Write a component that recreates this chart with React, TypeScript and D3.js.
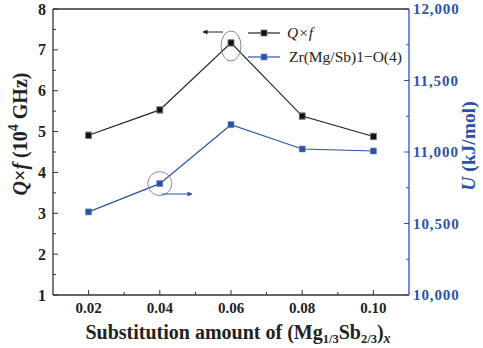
import React from "react";
import * as d3 from "d3";

const xValues = [0.02, 0.04, 0.06, 0.08, 0.1];
const qfValues = [4.91, 5.53, 7.17, 5.38, 4.88];
const uValues = [10581, 10779, 11191, 11021, 11007];
const xTicks = [0.02, 0.04, 0.06, 0.08, 0.1];
const xMinor = [0.03, 0.05, 0.07, 0.09];
const leftTicks = [1, 2, 3, 4, 5, 6, 7, 8];
const leftMinor = [1.5, 2.5, 3.5, 4.5, 5.5, 6.5, 7.5];
const rightTicks = [10000, 10500, 11000, 11500, 12000];
const rightMinor = [10250, 10750, 11250, 11750];

const W = 483, H = 348;
const M = { left: 53, right: 409, top: 9, bottom: 295 };
const BLUE = "#2c52a8";
const FONT = "Liberation Serif, Times New Roman, Times, DejaVu Serif, serif";

export default function App() {
  const x = d3.scaleLinear().domain([0.01, 0.11]).range([M.left, M.right]);
  const yL = d3.scaleLinear().domain([1, 8]).range([M.bottom, M.top]);
  const yR = d3.scaleLinear().domain([10000, 12000]).range([M.bottom, M.top]);
  const lineQ = d3.line<number>().x((_, i) => x(xValues[i])).y((d) => yL(d));
  const lineU = d3.line<number>().x((_, i) => x(xValues[i])).y((d) => yR(d));
  const fmt = d3.format(",");
  const ms = 6;
  const ts = { fontFamily: FONT };

  return (
    <svg width={W} height={H} style={{ position: "absolute", left: 0, top: 0, fontFamily: FONT }}>
      <defs>
        <marker id="ah" viewBox="0 0 10 10" refX="9" refY="5" markerWidth="7" markerHeight="5" orient="auto-start-reverse">
          <path d="M0,0 L10,5 L0,10 z" fill="#222" />
        </marker>
        <marker id="ahb" viewBox="0 0 10 10" refX="9" refY="5" markerWidth="7" markerHeight="5" orient="auto">
          <path d="M0,0 L10,5 L0,10 z" fill={BLUE} />
        </marker>
      </defs>
      {/* frame */}
      <line x1={M.left} x2={M.right} y1={M.top} y2={M.top} stroke="#333" strokeWidth={1.3} />
      <line x1={M.left} x2={M.right} y1={M.bottom} y2={M.bottom} stroke="#333" strokeWidth={1.3} />
      <line x1={M.left} x2={M.left} y1={M.top} y2={M.bottom} stroke="#333" strokeWidth={1.3} />
      <line x1={M.right} x2={M.right} y1={M.top} y2={M.bottom} stroke={BLUE} strokeWidth={1.3} />

      {/* x ticks */}
      {xTicks.map((t) => (
        <g key={"xt" + t}>
          <line x1={x(t)} x2={x(t)} y1={M.bottom} y2={M.bottom - 5} stroke="#333" />
          <text style={ts} x={x(t)} y={313} textAnchor="middle" fontSize={15} fontWeight="bold" fill="#222">
            {t.toFixed(2)}
          </text>
        </g>
      ))}
      {xMinor.map((t) => (
        <line key={"xm" + t} x1={x(t)} x2={x(t)} y1={M.bottom} y2={M.bottom - 3} stroke="#333" />
      ))}

      {/* left ticks */}
      {leftTicks.map((t) => (
        <g key={"lt" + t}>
          <line x1={M.left} x2={M.left + 5} y1={yL(t)} y2={yL(t)} stroke="#333" />
          <text style={ts} x={46} y={yL(t) + 5.5} textAnchor="end" fontSize={16} fontWeight="bold" fill="#222">
            {t}
          </text>
        </g>
      ))}
      {leftMinor.map((t) => (
        <line key={"lm" + t} x1={M.left} x2={M.left + 3} y1={yL(t)} y2={yL(t)} stroke="#333" />
      ))}

      {/* right ticks */}
      {rightTicks.map((t) => (
        <g key={"rt" + t}>
          <line x1={M.right} x2={M.right - 5} y1={yR(t)} y2={yR(t)} stroke={BLUE} />
          <text style={ts} x={413} y={yR(t) + 5} textAnchor="start" fontSize={15} fontWeight="bold" fill={BLUE} letterSpacing={0.9}>
            {fmt(t)}
          </text>
        </g>
      ))}
      {rightMinor.map((t) => (
        <line key={"rm" + t} x1={M.right} x2={M.right - 3} y1={yR(t)} y2={yR(t)} stroke={BLUE} />
      ))}

      {/* series */}
      <path d={lineQ(qfValues) || ""} fill="none" stroke="#222" strokeWidth={1.2} />
      <path d={lineU(uValues) || ""} fill="none" stroke={BLUE} strokeWidth={1.2} />
      {qfValues.map((v, i) => (
        <g key={"q" + i}>
          <line x1={x(xValues[i])} x2={x(xValues[i])} y1={yL(v + 0.08)} y2={yL(v - 0.08)} stroke="#888" />
          <line x1={x(xValues[i]) - 3} x2={x(xValues[i]) + 3} y1={yL(v + 0.08)} y2={yL(v + 0.08)} stroke="#999" />
          <line x1={x(xValues[i]) - 3} x2={x(xValues[i]) + 3} y1={yL(v - 0.08)} y2={yL(v - 0.08)} stroke="#999" />
          <rect x={x(xValues[i]) - ms / 2} y={yL(v) - ms / 2} width={ms} height={ms} fill="#111" stroke="#777" strokeWidth={0.8} />
        </g>
      ))}
      {uValues.map((v, i) => (
        <rect key={"u" + i} x={x(xValues[i]) - ms / 2} y={yR(v) - ms / 2} width={ms} height={ms} fill={BLUE} stroke="#6b85c4" strokeWidth={0.6} />
      ))}

      {/* annotations */}
      <ellipse cx={x(0.06)} cy={46} rx={10} ry={15} fill="none" stroke="#888" strokeWidth={1} />
      <line x1={223} y1={32} x2={203} y2={32} stroke="#222" strokeWidth={1} markerEnd="url(#ah)" />
      <circle cx={x(0.04)} cy={yR(uValues[1])} r={12} fill="none" stroke="#8c86c8" strokeWidth={1} />
      <line x1={x(0.04) + 2} y1={194} x2={192} y2={194} stroke={BLUE} strokeWidth={1} markerEnd="url(#ahb)" />

      {/* legend */}
      <line x1={248} x2={280} y1={33} y2={33} stroke="#222" strokeWidth={1.2} />
      <rect x={264 - ms / 2} y={33 - ms / 2} width={ms} height={ms} fill="#111" stroke="#777" strokeWidth={0.8} />
      <text style={ts} x={287} y={38} fontSize={15.5} fontStyle="italic" fill="#222">Q×f</text>
      <line x1={248} x2={280} y1={57} y2={57} stroke={BLUE} strokeWidth={1.2} />
      <rect x={264 - ms / 2} y={57 - ms / 2} width={ms} height={ms} fill={BLUE} stroke="#6b85c4" strokeWidth={0.6} />
      <text style={ts} x={289} y={62} fontSize={15.5} fill="#222">Zr(Mg/Sb)1−O(4)</text>

      {/* axis titles */}
      <text style={ts} transform="translate(27,134) rotate(-90)" textAnchor="middle" fontSize={20} fontWeight="bold" fill="#222">
        <tspan fontStyle="italic">Q</tspan>
        <tspan>×</tspan>
        <tspan fontStyle="italic">f</tspan>
        <tspan> (10</tspan>
        <tspan fontSize={14} dy={-9}>4</tspan>
        <tspan dy={9}> GHz)</tspan>
      </text>
      <text style={ts} transform="translate(475,146) rotate(-90)" textAnchor="middle" fontSize={19.5} fontWeight="bold" fill={BLUE}>
        <tspan fontStyle="italic">U</tspan>
        <tspan> (kJ/mol)</tspan>
      </text>
      <text style={ts} x={238} y={339} textAnchor="middle" fontSize={20} fontWeight="bold" fill="#222">
        <tspan>Substitution amount of (Mg</tspan>
        <tspan fontSize={12.5} dy={4}>1/3</tspan>
        <tspan dy={-4}>Sb</tspan>
        <tspan fontSize={12.5} dy={4}>2/3</tspan>
        <tspan dy={-4}>)</tspan>
        <tspan fontSize={14} dy={4} fontStyle="italic">x</tspan>
      </text>
    </svg>
  );
}
